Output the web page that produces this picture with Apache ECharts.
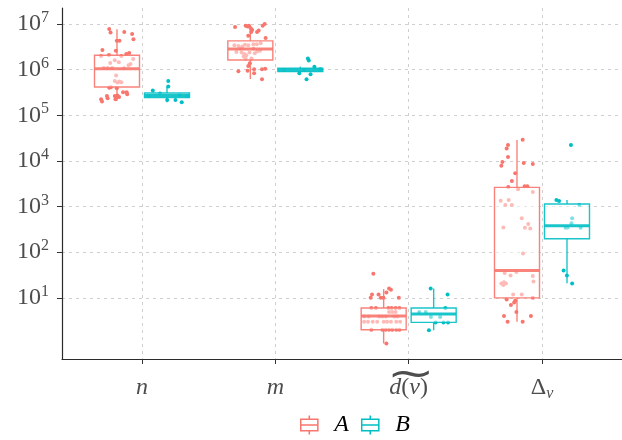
<!DOCTYPE html>
<html><head><meta charset="utf-8">
<script src="https://cdn.jsdelivr.net/npm/echarts@6/dist/echarts.min.js"></script>
<style>html,body{margin:0;padding:0;background:#fff}#c{width:622px;height:440px}</style>
</head><body><div id="c"></div>
<script>
// ---- data ----
const categories = ['n', 'm', 'd(v)', 'Δv'];
const groups = ['A', 'B'];
const yTickExponents = [1, 2, 3, 4, 5, 6, 7];

// box stats per category: [whiskerLow, Q1, median, Q3, whiskerHigh]
const boxA = [
  [2.09e5, 4.17e5, 1.05e6, 2.07e6, 7.7e6],
  [6.2e5, 1.63e6, 2.84e6, 4.26e6, 9.5e6],
  [1.0, 2.0, 4.0, 6.0, 15.5],
  [3.0, 10, 39.8, 2636, 28800]
];
const boxB = [
  [1.92e5, 2.43e5, 2.7e5, 3.08e5, 4.25e5],
  [7.9e5, 9.06e5, 9.85e5, 1.07e6, 1.16e6],
  [1.95, 2.9, 4.4, 6.0, 16],
  [21, 197, 380, 1135, 1390]
];

// individual observations (values) and their horizontal jitter (category units)
const nA = [7.8e6,6.5e6,6.7e6,6.0e6,4.6e6,4.3e6,4.3e6,2.7e6,2.6e6,2.2e6,2.3e6,2.0e6,2.1e6,2.0e6,1.7e6,1.6e6,1.45e6,1.4e6,1.33e6,1.25e6,1.09e6,1.09e6,1.09e6,1.07e6,7.4e5,5.6e5,5.5e5,5.3e5,5.2e5,4.1e5,4.0e5,3.9e5,3.2e5,3.2e5,2.65e5,2.65e5,2.24e5,2.0e5,2.35e5,2.5e5,2.5e5,2.9e5,2.24e5,2.7e5];
const nAjit = [-0.246,-0.236,-0.133,-0.074,-0.064,-0.169,-0.189,-0.297,-0.196,-0.118,-0.096,-0.307,-0.248,-0.155,-0.066,-0.204,-0.174,-0.238,-0.086,-0.101,-0.287,-0.258,-0.224,-0.135,-0.194,-0.204,-0.169,-0.155,-0.184,-0.233,-0.246,-0.189,-0.115,-0.142,-0.204,-0.263,-0.307,-0.300,-0.258,-0.172,-0.189,-0.111,-0.199,-0.184];
const nB = [3.5e5,5.65e5,4.25e5,2.16e5,2.16e5,1.92e5,3.0e5,2.65e5,2.75e5,2.65e5];
const nBjit = [0.081,0.197,0.197,0.189,0.251,0.298,0.135,0.049,0.283,0.339];

const mA = [8.6e6,9.1e6,8.8e6,9.2e6,8.1e6,7.4e6,6.7e6,6.7e6,7.2e6,9.2e6,1.0e7,4.9e6,5.5e6,
  3.4e6,3.3e6,3.2e6,3.5e6,3.4e6,3.6e6,3.6e6,3.8e6,2.44e6,2.36e6,2.2e6,2.07e6,1.93e6,2.36e6,2.29e6,2.53e6,2.6e6,1.75e6,1.75e6,2.9e6,2.9e6,
  9.2e5,1.2e6,9.5e5,1.02e6,8.3e5,1.02e6,1.05e6,6.15e5,1.38e6];
const mAjit = [-0.302,-0.223,-0.208,-0.198,-0.184,-0.174,-0.181,-0.137,-0.125,-0.095,-0.080,-0.073,-0.203,
  -0.307,-0.277,-0.248,-0.228,-0.203,-0.164,-0.139,-0.110,-0.292,-0.253,-0.233,-0.218,-0.238,-0.194,-0.154,-0.135,-0.115,-0.223,-0.179,-0.262,-0.164,
  -0.277,-0.203,-0.208,-0.159,-0.159,-0.100,-0.076,-0.100,-0.191];
const mB = [1.75e6,1.58e6,1.16e6,8.3e5,6.15e5,7.9e5,9.85e5,9.85e5,1.02e6];
const mBjit = [0.244,0.251,0.293,0.180,0.234,0.264,0.215,0.067,0.337];

const dA = [33.6,11.8,11.8,10,10,13.1,16,15,10,10,
  6,6,6,6,6,6, 4.9,4.9,4.9, 3.9,3.9,3.9,3.9,3.9,3.9,3.9,
  3,3,3,3,3,3,3,3,3, 2,2,2,2,2,2,2, 1.0];
const dAjit = [-0.265,-0.275,-0.226,-0.209,-0.189,-0.167,-0.147,-0.133,-0.074,-0.285,
  -0.280,-0.246,-0.152,-0.128,-0.098,-0.069, -0.147,-0.123,-0.098, -0.334,-0.300,-0.221,-0.197,-0.172,-0.108,-0.084,
  -0.334,-0.305,-0.270,-0.236,-0.187,-0.162,-0.133,-0.093,-0.064, -0.280,-0.197,-0.172,-0.147,-0.123,-0.093,-0.069, -0.167];
const dB = [16,11.8,4.9,4.9,6.0,3.8,3.8,2.9,2.9,2.9,1.95];
const dBjit = [0.165,0.292,0.079,0.128,0.275,0.167,0.236,0.202,0.261,0.295,0.152];

const xA = [29200,22300,18600,12200,9460,7870,9000,8550,5340,3630,2680,2770,2770,
  2380,2080,1340,1390,1080,1080,551,349,343,414,332,94,35,31,37,30,22.9,20.7,22,20.7,19,
  11.9,11.9,9.2,10.0,8.6,7.0,7.9,4.9,4.0,4.0,3.0,3.0];
const xAjit = [-0.145,-0.255,-0.265,-0.255,-0.297,-0.305,-0.137,-0.069,-0.201,-0.226,-0.253,-0.130,-0.110,
  -0.179,-0.069,-0.310,-0.250,-0.275,-0.226,-0.152,-0.290,-0.128,-0.103,-0.088,-0.142,-0.280,-0.236,-0.192,-0.069,-0.064,-0.305,-0.285,-0.270,-0.290,
  -0.216,-0.152,-0.265,-0.069,-0.201,-0.233,-0.209,-0.192,-0.285,-0.083,-0.258,-0.145];
const xB = [22300,1390,1320,1080,551,428,344,349,344,39.8,31,20.7];
const xBjit = [0.217,0.108,0.128,0.280,0.226,0.221,0.177,0.192,0.290,0.162,0.187,0.226];

const pointsA = [nA, mA, dA, xA];
const jitterA = [nAjit, mAjit, dAjit, xAjit];
const pointsB = [nB, mB, dB, xB];
const jitterB = [nBjit, mBjit, dBjit, xBjit];

// ---- styling ----
const colA = '#F8766D', colB = '#00BFC4';
const dodge = 0.1875, boxW = 0.3375;
const serif = 'Liberation Serif';
const labelGray = '#4d4d4d';

function pts(vals, jit) {
  const out = [];
  vals.forEach((arr, c) => arr.forEach((v, j) => out.push([c + 1 + jit[c][j], Math.log10(v)])));
  return out;
}
function boxes(stats, off) {
  return stats.map((s, c) => [c + 1 + off].concat(s.map(v => Math.log10(v))));
}
function renderBox(params, api) {
  const x = api.value(0);
  const lo = api.coord([x, api.value(1)]);
  const q1 = api.coord([x, api.value(2)]);
  const md = api.coord([x, api.value(3)]);
  const q3 = api.coord([x, api.value(4)]);
  const hi = api.coord([x, api.value(5)]);
  const w = api.size([boxW, 0])[0];
  const color = api.visual('color');
  const cx = lo[0];
  const stroke = {stroke: color, lineWidth: 1.4, opacity: 0.9};
  return {
    type: 'group',
    children: [
      {type: 'line', shape: {x1: cx, y1: q3[1], x2: cx, y2: hi[1]}, style: stroke},
      {type: 'line', shape: {x1: cx, y1: q1[1], x2: cx, y2: lo[1]}, style: stroke},
      {type: 'rect', shape: {x: cx - w / 2, y: q3[1], width: w, height: q1[1] - q3[1]},
        style: {fill: 'rgba(255,255,255,0.5)', stroke: color, lineWidth: 1.4, strokeOpacity: 0.9}},
      {type: 'line', shape: {x1: cx - w / 2, y1: md[1], x2: cx + w / 2, y2: md[1]},
        style: {stroke: color, lineWidth: 3, opacity: 0.9}}
    ]
  };
}

const xLabelFmt = {
  'n': '{e| }\n{i|n}',
  'm': '{e| }\n{i|m}',
  'd(v)': '{t|⁓}\n{i|d}{r|(}{i|v}{r|)}',
  'Δv': '{e| }\n{r|Δ}{sub|v}'
};

const legendIcon = 'path://M1,4 H19 V16 H1 Z M1,10 H19 M10,0 V4 M10,16 V20';

const chart = echarts.init(document.getElementById('c'), null, {renderer: 'canvas'});
chart.setOption({
  animation: false,
  backgroundColor: '#fff',
  grid: {left: 62, right: -9, top: 8, bottom: 81, containLabel: false},
  xAxis: {
    type: 'value', min: 0.4, max: 4.6,
    axisLine: {show: true, onZero: false, lineStyle: {color: '#2b2b2b', width: 1.2}},
    axisTick: {show: true, length: 5, lineStyle: {color: '#333'}, customValues: [1, 2, 3, 4]},
    splitLine: {show: true, lineStyle: {color: '#cfcfcf', type: [3, 4], width: 1}},
    axisLabel: {
      customValues: [1, 2, 3, 4], margin: 6,
      formatter: v => xLabelFmt[categories[Math.round(v) - 1]],
      rich: {
        e: {fontSize: 8, lineHeight: 9},
        t: {fontSize: 40, lineHeight: 9, fontFamily: 'DejaVu Sans', color: labelGray, padding: [14, 0, 0, 4]},
        i: {fontSize: 24, lineHeight: 28, fontStyle: 'italic', fontFamily: serif, color: labelGray},
        r: {fontSize: 24, lineHeight: 28, fontFamily: serif, color: labelGray},
        sub: {fontSize: 16, lineHeight: 16, fontStyle: 'italic', fontFamily: serif, color: labelGray, verticalAlign: 'bottom'}
      }
    }
  },
  yAxis: {
    type: 'value', min: -0.34, max: 7.35,
    axisLine: {show: true, lineStyle: {color: '#2b2b2b', width: 1.2}},
    axisTick: {show: true, length: 5, lineStyle: {color: '#333'}, customValues: yTickExponents},
    splitLine: {show: true, lineStyle: {color: '#cfcfcf', type: [3, 4], width: 1}},
    axisLabel: {
      customValues: yTickExponents, margin: 13,
      formatter: v => '{b|10}{s|' + Math.round(v) + '}',
      rich: {
        b: {fontSize: 24, lineHeight: 28, fontFamily: serif, color: labelGray},
        s: {fontSize: 16, lineHeight: 16, fontFamily: serif, color: labelGray, verticalAlign: 'top'}
      }
    }
  },
  legend: {
    left: 295, top: 408, itemWidth: 20, itemHeight: 19, itemGap: 12,
    textStyle: {fontSize: 24, fontStyle: 'italic', fontFamily: serif, color: '#000', padding: [0, 0, 0, 10]},
    data: [
      {name: 'A', icon: legendIcon, itemStyle: {color: 'rgba(255,255,255,0)', borderColor: colA, borderWidth: 1.5}},
      {name: 'B', icon: legendIcon, itemStyle: {color: 'rgba(255,255,255,0)', borderColor: colB, borderWidth: 1.5}}
    ]
  },
  series: [
    {name: groups[0], type: 'scatter', data: pts(pointsA, jitterA), symbolSize: 4, itemStyle: {color: colA, opacity: 1}, z: 2, silent: true},
    {name: groups[1], type: 'scatter', data: pts(pointsB, jitterB), symbolSize: 4, itemStyle: {color: colB, opacity: 1}, z: 2, silent: true},
    {name: groups[0], type: 'custom', data: boxes(boxA, -dodge), renderItem: renderBox, encode: {x: 0, y: [1, 2, 3, 4, 5]}, itemStyle: {color: colA}, z: 3, clip: false},
    {name: groups[1], type: 'custom', data: boxes(boxB, dodge), renderItem: renderBox, encode: {x: 0, y: [1, 2, 3, 4, 5]}, itemStyle: {color: colB}, z: 3, clip: false}
  ]
});
</script>
</body></html>
